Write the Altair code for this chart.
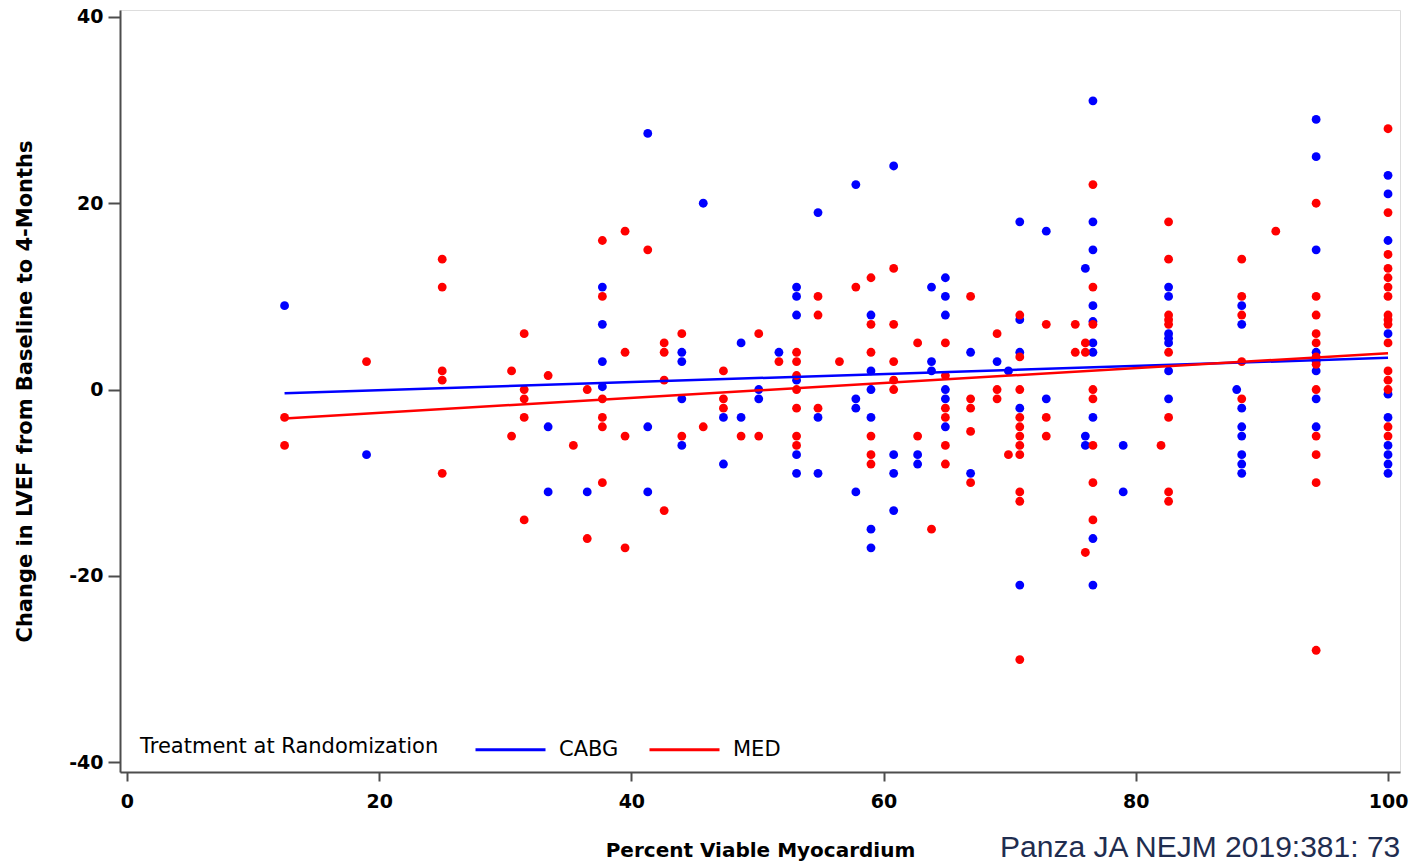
import altair as alt
import pandas as pd

# ---- data ----
cabg_x = [12.5, 19, 33.4, 33.4, 36.5, 37.7, 37.7, 37.7, 37.7,
          41.3, 41.3, 41.3, 44, 44, 44, 44, 45.7, 47.3, 47.3, 48.7, 48.7,
          50.1, 50.1, 51.7, 53.1, 53.1, 53.1, 53.1, 53.1, 53.1,
          54.8, 54.8, 54.8, 57.8, 57.8, 57.8, 57.8,
          59, 59, 59, 59, 59, 59, 60.8, 60.8, 60.8, 60.8, 62.7, 62.7,
          63.8, 63.8, 63.8, 64.9, 64.9, 64.9, 64.9, 64.9, 64.9,
          66.9, 66.9, 69, 69.9, 70.8, 70.8, 70.8, 70.8, 70.8, 72.9, 72.9,
          76, 76, 76, 76.6, 76.6, 76.6, 76.6, 76.6, 76.6, 76.6, 76.6, 76.6, 76.6,
          79, 79, 82.6, 82.6, 82.6, 82.6, 82.6, 82.6, 82.6, 88,
          88.4, 88.4, 88.4, 88.4, 88.4, 88.4, 88.4, 88.4,
          94.3, 94.3, 94.3, 94.3, 94.3, 94.3, 94.3, 94.3,
          100, 100, 100, 100, 100, 100, 100, 100, 100, 100]
cabg_y = [9, -7, -4, -11, -11, 11, 7, 3, 0.3,
          27.5, -4, -11, 4, 3, -1, -6, 20, -3, -8, 5, -3,
          0, -1, 4, 11, 10, 8, 1, -7, -9,
          19, -3, -9, 22, -1, -2, -11,
          8, 2, 0, -3, -15, -17, 24, -7, -9, -13, -7, -8,
          11, 3, 2, 12, 10, 8, 0, -1, -4,
          4, -9, 3, 2, 18, 7.5, 4, -2, -21, 17, -1,
          13, -5, -6, 31, 18, 15, 9, 7.3, 5, 4, -3, -16, -21,
          -6, -11, 11, 10, 6, 5.5, 5, 2, -1, 0,
          9, 7, -2, -4, -5, -7, -8, -9,
          29, 25, 15, 4, 3, 2, -1, -4,
          23, 21, 16, 6, -0.5, -3, -6, -7, -8, -9]

med_x = [12.5, 12.5, 19, 25, 25, 25, 25, 25, 30.5, 30.5,
         31.5, 31.5, 31.5, 31.5, 31.5, 33.4, 35.4, 36.5, 36.5,
         37.7, 37.7, 37.7, 37.7, 37.7, 37.7, 39.5, 39.5, 39.5, 39.5, 41.3,
         42.6, 42.6, 42.6, 42.6, 44, 44, 45.7, 47.3, 47.3, 47.3, 48.7,
         50.1, 50.1, 51.7, 53.1, 53.1, 53.1, 53.1, 53.1, 53.1, 53.1,
         54.8, 54.8, 54.8, 56.5, 57.8, 59, 59, 59, 59, 59, 59,
         60.8, 60.8, 60.8, 60.8, 60.8, 62.7, 62.7, 63.8,
         64.9, 64.9, 64.9, 64.9, 64.9, 64.9, 66.9, 66.9, 66.9, 66.9, 66.9,
         69, 69, 69, 69.9, 70.8, 70.8, 70.8, 70.8, 70.8, 70.8, 70.8, 70.8, 70.8, 70.8, 70.8,
         72.9, 72.9, 72.9, 75.2, 75.2, 76, 76, 76,
         76.6, 76.6, 76.6, 76.6, 76.6, 76.6, 76.6, 76.6, 82,
         82.6, 82.6, 82.6, 82.6, 82.6, 82.6, 82.6, 82.6, 82.6,
         88.4, 88.4, 88.4, 88.4, 88.4, 91.1,
         94.3, 94.3, 94.3, 94.3, 94.3, 94.3, 94.3, 94.3, 94.3, 94.3, 94.3, 94.3,
         100, 100, 100, 100, 100, 100, 100, 100, 100, 100, 100, 100, 100, 100, 100, 100]
med_y = [-3, -6, 3, 14, 11, 2, 1, -9, 2, -5,
         6, 0, -1, -3, -14, 1.5, -6, 0, -16,
         16, 10, -1, -3, -4, -10, 17, 4, -5, -17, 15,
         5, 4, 1, -13, 6, -5, -4, 2, -1, -2, -5,
         6, -5, 3, 4, 3, 1.5, 0, -2, -5, -6,
         10, 8, -2, 3, 11, 12, 7, 4, -5, -7, -8,
         13, 7, 3, 1, 0, 5, -5, -15,
         5, 1.5, -2, -3, -6, -8, 10, -1, -2, -4.5, -10,
         6, 0, -1, -7, 8, 3.5, 0, -3, -4, -5, -6, -7, -11, -12, -29,
         7, -3, -5, 7, 4, 5, 4, -17.5,
         22, 11, 7, 0, -1, -6, -10, -14, -6,
         18, 14, 8, 7.5, 7, 4, -3, -11, -12,
         14, 10, 8, 3, -1, 17,
         20, 10, 8, 6, 5, 3.5, 2.7, 0, -5, -7, -10, -28,
         28, 19, 14.5, 13, 12, 11, 10, 8, 7.5, 7, 5, 2, 1, 0, -4, -5]

# fitted regression lines (end points)
fit_x = [12.5, 100]
cabg_fit_y = [-0.4, 3.4]
med_fit_y = [-3.1, 3.9]

groups = ["CABG", "MED"]
colors = ["#0000FF", "#FF0000"]
x_ticks = [0, 20, 40, 60, 80, 100]
y_ticks = [-40, -20, 0, 20, 40]
citation = "Panza JA NEJM 2019:381: 73"

# ---- tables ----
pts = pd.DataFrame({
    "pct": cabg_x + med_x,
    "chg": cabg_y + med_y,
    "grp": ["CABG"] * len(cabg_x) + ["MED"] * len(med_x),
})
fits = pd.DataFrame({
    "pct": fit_x + fit_x,
    "chg": cabg_fit_y + med_fit_y,
    "Treatment": ["CABG"] * 2 + ["MED"] * 2,
})
cite = pd.DataFrame({"t": [citation]})

AX = "#4d4d4d"
FONT = "DejaVu Sans"

x_enc = alt.X("pct:Q",
              scale=alt.Scale(domain=[-0.55, 100.95], nice=False, zero=False),
              axis=alt.Axis(values=x_ticks, title="Percent Viable Myocardium",
                            grid=False, tickSize=9, tickWidth=2, tickColor=AX,
                            domainColor=AX, domainWidth=2,
                            labelFont=FONT, labelFontWeight="bold", labelFontSize=19,
                            labelColor="black", labelPadding=11,
                            labelExpr="toString(datum.value)",
                            titleFont=FONT, titleFontWeight="bold", titleFontSize=20,
                            titleColor="black", titlePadding=29))
y_enc = alt.Y("chg:Q",
              scale=alt.Scale(domain=[-41.07, 40.75], nice=False, zero=False),
              axis=alt.Axis(values=y_ticks, title="Change in LVEF from Baseline to 4-Months",
                            grid=False, tickSize=12, tickWidth=2, tickColor=AX,
                            domainColor=AX, domainWidth=2,
                            labelFont=FONT, labelFontWeight="bold", labelFontSize=19,
                            labelColor="black", labelPadding=5,
                            labelExpr="toString(datum.value)",
                            titleFont=FONT, titleFontWeight="bold", titleFontSize=21,
                            titleColor="black", titlePadding=33))

points = alt.Chart(pts).mark_circle(size=78, opacity=1).encode(
    x=x_enc, y=y_enc,
    color=alt.Color("grp:N", scale=alt.Scale(domain=groups, range=colors), legend=None),
)

lines = alt.Chart(fits).mark_line(strokeWidth=2.5).encode(
    x="pct:Q", y="chg:Q",
    stroke=alt.Stroke("Treatment:N", scale=alt.Scale(domain=groups, range=colors),
                      legend=alt.Legend(orient="none", legendX=20, legendY=703,
                                        direction="horizontal", titleOrient="left",
                                        title="Treatment at Randomization",
                                        titleFont=FONT, titleFontSize=21,
                                        titleFontWeight="normal", titleColor="black",
                                        titlePadding=35, titleLimit=500,
                                        titleAnchor="middle", titleBaseline="top",
                                        labelFont=FONT, labelFontSize=21, labelColor="black",
                                        labelLimit=200,
                                        symbolType="stroke", symbolSize=4900,
                                        symbolStrokeWidth=3, labelOffset=12,
                                        columnPadding=24, padding=0)),
)

cite_txt = alt.Chart(cite).mark_text(align="left", baseline="alphabetic",
                                     font="Liberation Sans", fontSize=30,
                                     color="#1f2d50").encode(
    x=alt.value(880), y=alt.value(847), text="t:N")

chart = alt.layer(points, lines, cite_txt).resolve_scale(color="independent").properties(
    width=1280, height=762,
    autosize=alt.AutoSizeParams(type="none"),
    padding={"left": 120, "top": 10, "right": 20, "bottom": 93},
).configure_view(stroke=None).configure(background="white")

chart.save("out.html", embed_options={"renderer": "svg", "actions": False})
